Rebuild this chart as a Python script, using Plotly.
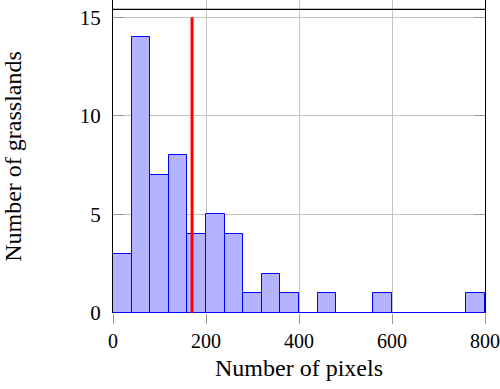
import plotly.graph_objects as go

bin_start = 0
bin_width = 40
counts = [3, 14, 7, 8, 4, 5, 4, 1, 2, 1, 0, 1, 0, 0, 1, 0, 0, 0, 0, 1]
mean_value = 170
mean_top = 15
x_ticks = [0, 200, 400, 600, 800]
y_ticks = [0, 5, 10, 15]
x_title = "Number of pixels"
y_title = "Number of grasslands"

lefts = [bin_start + i * bin_width for i in range(len(counts))]
x_end = lefts[-1] + bin_width

font = "Liberation Serif"

fig = go.Figure()
fig.add_trace(go.Bar(
    x=lefts, y=counts, width=bin_width, offset=0,
    marker=dict(color="rgb(179,179,255)", line=dict(color="blue", width=1)),
    hoverinfo="skip",
))
fig.add_trace(go.Scatter(
    x=[bin_start, x_end], y=[0, 0], mode="lines",
    line=dict(color="blue", width=1.2), hoverinfo="skip",
))
fig.add_trace(go.Scatter(
    x=[mean_value, mean_value], y=[0, mean_top], mode="lines",
    line=dict(color="red", width=3), hoverinfo="skip",
))

fig.add_shape(type="line", xref="paper", yref="y", x0=0, x1=1, y0=15.4, y1=15.4,
              line=dict(color="black", width=1.2))

fig.update_layout(
    width=500, height=389,
    margin=dict(l=113, r=15, t=0, b=76),
    paper_bgcolor="white", plot_bgcolor="white",
    showlegend=False,
    bargap=0,
    font=dict(family=font, size=20, color="black"),
    xaxis=dict(
        range=[0, 800], tickvals=x_ticks, ticktext=[str(v) for v in x_ticks],
        showgrid=True, gridcolor="#c4c4c4", gridwidth=1,
        ticks="outside", ticklen=10, tickcolor="#999999",
        showline=False, zeroline=False, automargin=False,
        title=dict(text=x_title, font=dict(family=font, size=24), standoff=8),
        tickfont=dict(family=font, size=20),
    ),
    yaxis=dict(
        range=[0, 15.88], tickvals=y_ticks, ticktext=[str(v) for v in y_ticks],
        showgrid=True, gridcolor="#c4c4c4", gridwidth=1,
        ticks="inside", ticklen=11, tickcolor="#999999",
        showline=True, linecolor="black", linewidth=1.2, mirror="allticks",
        zeroline=False, automargin=False, ticklabelstandoff=7,
        title=dict(text=y_title, font=dict(family=font, size=24), standoff=52),
        tickfont=dict(family=font, size=21),
    ),
)

fig.write_html("out.html", config={"displayModeBar": False},
               post_script="document.body.style.margin='0';")
